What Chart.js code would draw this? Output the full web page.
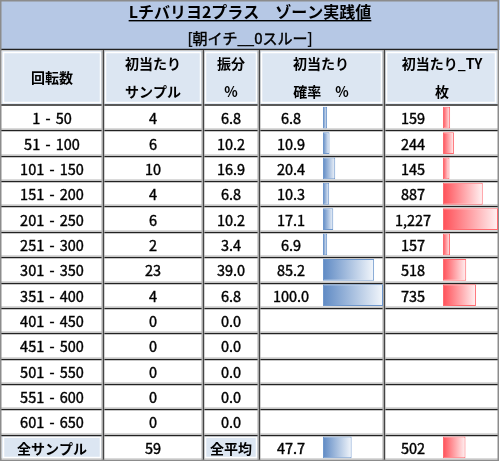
<!DOCTYPE html>
<html><head><meta charset="utf-8">
<script src="https://cdn.jsdelivr.net/npm/chart.js@4.4.1/dist/chart.umd.min.js"></script>
<style>html,body{margin:0;padding:0;background:#fff;}#wrap{width:500px;height:462px;position:relative;}</style>
</head><body><div id="wrap"><canvas id="c" width="500" height="462"></canvas></div>
<script>
const titleMain = 'Lチバリヨ2プラス　ゾーン実践値';
const titleSub = '[朝イチ__0スルー]';
const headers = [['回転数'], ['初当たり', 'サンプル'], ['振分', '%'], ['初当たり', '確率　%'], ['初当たり_TY', '枚']];
const zones = ['1 - 50', '51 - 100', '101 - 150', '151 - 200', '201 - 250', '251 - 300', '301 - 350', '351 - 400', '401 - 450', '451 - 500', '501 - 550', '551 - 600', '601 - 650'];
const samples = [4, 6, 10, 4, 6, 2, 23, 4, 0, 0, 0, 0, 0];
const shares = [6.8, 10.2, 16.9, 6.8, 10.2, 3.4, 39.0, 6.8, 0.0, 0.0, 0.0, 0.0, 0.0];
const hitRates = [6.8, 10.9, 20.4, 10.3, 17.1, 6.9, 85.2, 100.0, null, null, null, null, null];
const tyCoins = [159, 244, 145, 887, 1227, 157, 518, 735, null, null, null, null, null];
const totalLabel = '全サンプル';
const totalSamples = 59;
const avgLabel = '全平均';
const avgRate = 47.7;
const avgCoins = 502;

// layout (pixels)
const W = 500;
const colEdges = [1, 103, 203, 259, 384, 498];
const TITLE_BOTTOM = 50, HEADER_BOTTOM = 105;
const RATE_X0 = 323, RATE_LEN = 60, TY_X0 = 443, TY_LEN = 55;
const FONT = "'Noto Sans CJK JP', 'Noto Sans', sans-serif";

const rowLabels = zones.concat([totalLabel]);
const rateData = hitRates.concat([avgRate]);
const tyData = tyCoins.concat([avgCoins]);
const rateMax = Math.max(...rateData.filter(v => v != null));
const tyMax = Math.max(...tyData.filter(v => v != null));
const ratePx = RATE_LEN / rateMax, tyPx = TY_LEN / tyMax;

function grad(ctx, axis, c0, c1) {
  const chart = ctx.chart;
  const sc = chart.scales && chart.scales[axis];
  if (!chart.chartArea || !sc || ctx.raw == null) return c0;
  const x0 = sc.getPixelForValue(0), x1 = sc.getPixelForValue(ctx.raw);
  const g = chart.ctx.createLinearGradient(x0, 0, x1, 0);
  g.addColorStop(0, c0); g.addColorStop(1, c1);
  return g;
}

function txt(c, s, x, y, sw) {
  c.fillText(s, x, y);
  if (sw) { c.lineWidth = sw; c.strokeStyle = '#000'; c.strokeText(s, x, y); }
}

const tablePlugin = {
  id: 'table',
  beforeDraw(chart) {
    const c = chart.ctx;
    const ys = chart.scales.y;
    const n = rowLabels.length;
    const top = ys.top, band = (ys.bottom - ys.top) / n;
    const rowTop = i => top + i * band;
    const bottom = ys.bottom;
    c.save();
    c.fillStyle = '#fff'; c.fillRect(0, 0, W, 462);
    // title area
    c.fillStyle = '#b6c8e5'; c.fillRect(0, 0, W, TITLE_BOTTOM);
    // header cells
    for (let k = 0; k < 5; k++) {
      c.fillStyle = '#dce6f2';
      c.fillRect(colEdges[k] + 1, TITLE_BOTTOM + 1, colEdges[k + 1] - colEdges[k] - 2, HEADER_BOTTOM - TITLE_BOTTOM - 2);
      c.strokeStyle = '#ffffff'; c.lineWidth = 1.5;
      c.strokeRect(colEdges[k] + 2.5, TITLE_BOTTOM + 2.5, colEdges[k + 1] - colEdges[k] - 5, HEADER_BOTTOM - TITLE_BOTTOM - 5);
    }
    // total row label cells
    const tTop = rowTop(n - 1);
    [0, 2].forEach(k => {
      c.fillStyle = '#dce6f2';
      c.fillRect(colEdges[k] + 1, tTop + 1, colEdges[k + 1] - colEdges[k] - 2, bottom - tTop - 2);
      c.strokeStyle = '#ffffff'; c.lineWidth = 1.5;
      c.strokeRect(colEdges[k] + 2.5, tTop + 2.5, colEdges[k + 1] - colEdges[k] - 5, bottom - tTop - 5);
    });
    // light inner grid
    c.strokeStyle = '#dadada'; c.lineWidth = 1;
    for (let i = 0; i < n; i++) {
      const y = Math.round(rowTop(i + 1)) - 1.5;
      c.beginPath(); c.moveTo(colEdges[0], y); c.lineTo(colEdges[5], y); c.stroke();
    }
    // horizontal dark lines
    c.strokeStyle = '#222'; c.lineWidth = 1.3;
    const hl = y => { c.beginPath(); c.moveTo(0, y); c.lineTo(colEdges[5] + 1, y); c.stroke(); };
    hl(TITLE_BOTTOM - 0.5);
    hl(HEADER_BOTTOM);
    for (let i = 1; i < n; i++) hl(Math.round(rowTop(i)) + 0.5);
    // vertical lines
    colEdges.slice(1, 5).forEach(x => {
      c.strokeStyle = '#a8a8a8'; c.lineWidth = 3;
      c.beginPath(); c.moveTo(x, TITLE_BOTTOM); c.lineTo(x, bottom); c.stroke();
      c.strokeStyle = '#444'; c.lineWidth = 1;
      c.beginPath(); c.moveTo(x + 0.5, TITLE_BOTTOM); c.lineTo(x + 0.5, bottom); c.stroke();
    });
    // outer border
    c.strokeStyle = '#8c8c8c'; c.lineWidth = 1.5;
    c.strokeRect(0.75, 0.75, colEdges[5] - 0.5, bottom - 0.5);
    // titles
    c.fillStyle = '#000'; c.textAlign = 'center'; c.textBaseline = 'middle';
    c.font = 'bold 16px ' + FONT;
    txt(c, titleMain, W / 2, 12);
    const tw = c.measureText(titleMain).width;
    c.fillRect(W / 2 - tw / 2, 20, tw, 1.4);
    c.font = '15px ' + FONT;
    txt(c, titleSub, W / 2, 38, 0.45);
    // headers
    c.font = 'bold 14px ' + FONT;
    const hx = [52, 153, 231, 321, 442];
    headers.forEach((h, k) => {
      if (h.length === 1) txt(c, h[0], hx[k], 78);
      else { txt(c, h[0], hx[k], 64); txt(c, h[1], hx[k], 92); }
    });
    // body
    c.font = '14.5px ' + FONT;
    const SW = 0.4;
    for (let i = 0; i < zones.length; i++) {
      const y = rowTop(i) + band / 2 + 1;
      c.wordSpacing = '2px';
      txt(c, zones[i], 52, y, SW);
      c.wordSpacing = '0px';
      txt(c, String(samples[i]), 153, y, SW);
      txt(c, shares[i].toFixed(1), 231, y, SW);
      if (hitRates[i] != null) txt(c, hitRates[i].toFixed(1), 291, y, SW);
      if (tyCoins[i] != null) txt(c, tyCoins[i].toLocaleString('en-US'), 413, y, SW);
    }
    const yt = tTop + band / 2 + 1;
    c.font = 'bold 14px ' + FONT;
    txt(c, totalLabel, 52, yt);
    txt(c, avgLabel, 231, yt);
    c.font = '14.5px ' + FONT;
    txt(c, String(totalSamples), 153, yt, SW);
    txt(c, avgRate.toFixed(1), 291, yt, SW);
    txt(c, avgCoins.toLocaleString('en-US'), 413, yt, SW);
    c.restore();
  }
};

new Chart(document.getElementById('c'), {
  type: 'bar',
  data: {
    labels: rowLabels,
    datasets: [
      {
        label: '確率', data: rateData, xAxisID: 'xr', grouped: false,
        backgroundColor: ctx => grad(ctx, 'xr', '#5f8ac4', '#f2f6fb'),
        borderColor: '#6f97cc', borderWidth: 1, borderSkipped: false,
        barPercentage: 0.86, categoryPercentage: 1
      },
      {
        label: 'TY', data: tyData, xAxisID: 'xt', grouped: false,
        backgroundColor: ctx => grad(ctx, 'xt', '#ff5058', '#fff2f3'),
        borderColor: '#ff6a70', borderWidth: 1, borderSkipped: false,
        barPercentage: 0.86, categoryPercentage: 1
      }
    ]
  },
  options: {
    responsive: false, animation: false, indexAxis: 'y',
    layout: { padding: { top: HEADER_BOTTOM, left: 0, right: 0, bottom: 2 } },
    plugins: { legend: { display: false }, tooltip: { enabled: false }, title: { display: false } },
    scales: {
      y: { type: 'category', display: false, offset: true },
      xr: { type: 'linear', display: false, min: -RATE_X0 / ratePx, max: (W - RATE_X0) / ratePx },
      xt: { type: 'linear', display: false, min: -TY_X0 / tyPx, max: (W - TY_X0) / tyPx }
    }
  },
  plugins: [tablePlugin]
});
</script></body></html>
